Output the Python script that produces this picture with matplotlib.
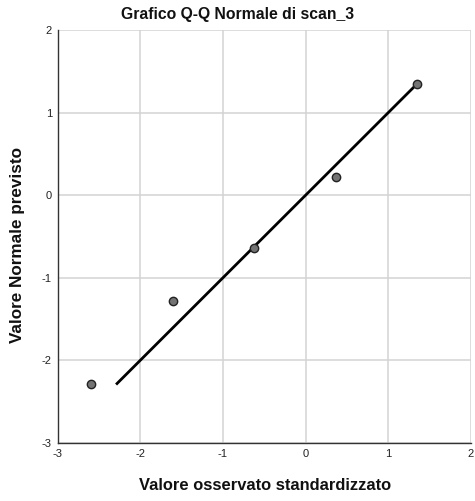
import matplotlib
matplotlib.use("Agg")
import matplotlib.pyplot as plt
import numpy as np

plt.rcParams['font.family'] = ['Liberation Sans', 'DejaVu Sans']
plt.rcParams['axes.unicode_minus'] = False

observed = [-2.595, -1.608, -0.629, 0.363, 1.351]
expected = [-2.28, -1.284, -0.634, 0.217, 1.342]
ticks = [-3, -2, -1, 0, 1, 2]

W, H = 475, 501
fig = plt.figure(figsize=(W / 100, H / 100), dpi=100)
ax = fig.add_axes([57.5 / W, 1 - 443 / H, (471 - 57.5) / W, (443 - 30) / H])

ax.set_xlim(-3, 2)
ax.set_ylim(-3, 2)
ax.set_xticks(ticks)
ax.set_yticks(ticks)
ax.grid(True, color='#d3d3d3', linewidth=1.1)
ax.set_axisbelow(True)
for s in ['top', 'right']:
    ax.spines[s].set_visible(False)
for s in ['left', 'bottom']:
    ax.spines[s].set_color('#333333')
    ax.spines[s].set_linewidth(1.0)
ax.tick_params(length=0, labelsize=8, pad=4, colors='#222222')

lo, hi = min(expected), max(expected)
ax.plot([lo, hi], [lo, hi], color='black', linewidth=2.0, zorder=3)
ax.plot(observed, expected, 'o', markersize=6, markerfacecolor='#737373',
        markeredgecolor='#222222', markeredgewidth=1.0, zorder=4)

fig.text(237.5 / W, 1 - 15 / H, 'Grafico Q-Q Normale di scan_3', fontsize=11.3,
         fontweight='bold', ha='center', va='center', color='#111111')
fig.text(265 / W, 1 - 485 / H, 'Valore osservato standardizzato', fontsize=11.9,
         fontweight='bold', ha='center', va='center', color='#111111')
fig.text(18 / W, 1 - 245 / H, 'Valore Normale previsto', fontsize=12.3,
         fontweight='bold', ha='center', va='center', rotation=90, color='#111111')

fig.savefig('out.png', dpi=100)
